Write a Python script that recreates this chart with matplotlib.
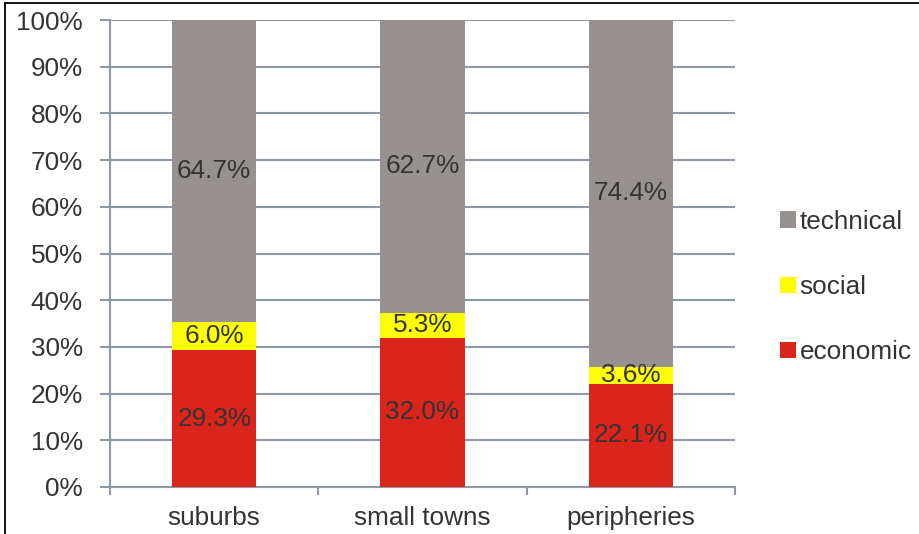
import matplotlib.pyplot as plt
import numpy as np
from matplotlib.lines import Line2D

plt.rcParams['font.family'] = ['Liberation Sans', 'DejaVu Sans']

categories = ["suburbs", "small towns", "peripheries"]
economic = [29.3, 32.0, 22.1]
social = [6.0, 5.3, 3.6]
technical = [64.7, 62.7, 74.4]

series = [("economic", economic, "#d9251c"),
          ("social", social, "#ffff00"),
          ("technical", technical, "#97928f")]

fs = 18.8
fig = plt.figure(figsize=(9.19, 5.34), dpi=100)
ax = fig.add_axes([110 / 919, 47 / 534, 625 / 919, 467 / 534])

x = np.arange(len(categories))
bottom = np.zeros(len(categories))
handles = {}
for name, vals, col in series:
    vals = np.array(vals)
    bars = ax.bar(x, vals, 0.405, bottom=bottom, color=col, zorder=3, label=name)
    handles[name] = bars
    for xi, b, v in zip(x, bottom, vals):
        ax.text(xi, b + v / 2, f"{v:.1f}%", ha="center", va="center",
                fontsize=fs, color="#333333", zorder=4)
    bottom += vals

ax.set_xlim(-0.5, 2.5)
ax.set_ylim(0, 100)
ax.set_yticks(np.arange(0, 101, 10))
ax.set_yticklabels([f"{v}%" for v in range(0, 101, 10)])
ax.yaxis.grid(True, color="#8e99a5", linewidth=1.5, zorder=0)
ax.set_xticks(x)
ax.set_xticklabels(categories)
ax.set_xticks([-0.5, 0.5, 1.5, 2.5], minor=True)

for s in ["top", "right"]:
    ax.spines[s].set_visible(False)
ax.spines["left"].set_color("#8e99a5")
ax.spines["left"].set_linewidth(1.5)
ax.spines["bottom"].set_color("#8e99a5")
ax.spines["bottom"].set_linewidth(1.5)

ax.tick_params(axis="y", length=7.5, width=1.5, color="#8e99a5", pad=12,
               labelsize=fs, labelcolor="#333333")
ax.tick_params(axis="x", which="major", length=0, pad=14,
               labelsize=fs, labelcolor="#333333")
ax.tick_params(axis="x", which="minor", length=6, width=1.5, color="#8e99a5")

leg = fig.legend([handles["technical"], handles["social"], handles["economic"]],
                 ["technical", "social", "economic"],
                 loc="center left", bbox_to_anchor=(780 / 919, 1 - 287 / 534),
                 frameon=False, fontsize=fs, handlelength=0.6, handleheight=0.6,
                 handletextpad=0.15, labelspacing=1.58, borderpad=0, borderaxespad=0)
for t in leg.get_texts():
    t.set_color("#333333")

# thin frame along the top and left edges
fig.add_artist(Line2D([5 / 919, 1], [1 - 3 / 534, 1 - 3 / 534], color="black", lw=1.3))
fig.add_artist(Line2D([5 / 919, 5 / 919], [0, 1 - 3 / 534], color="black", lw=1.3))

fig.savefig("out.png", dpi=100)
